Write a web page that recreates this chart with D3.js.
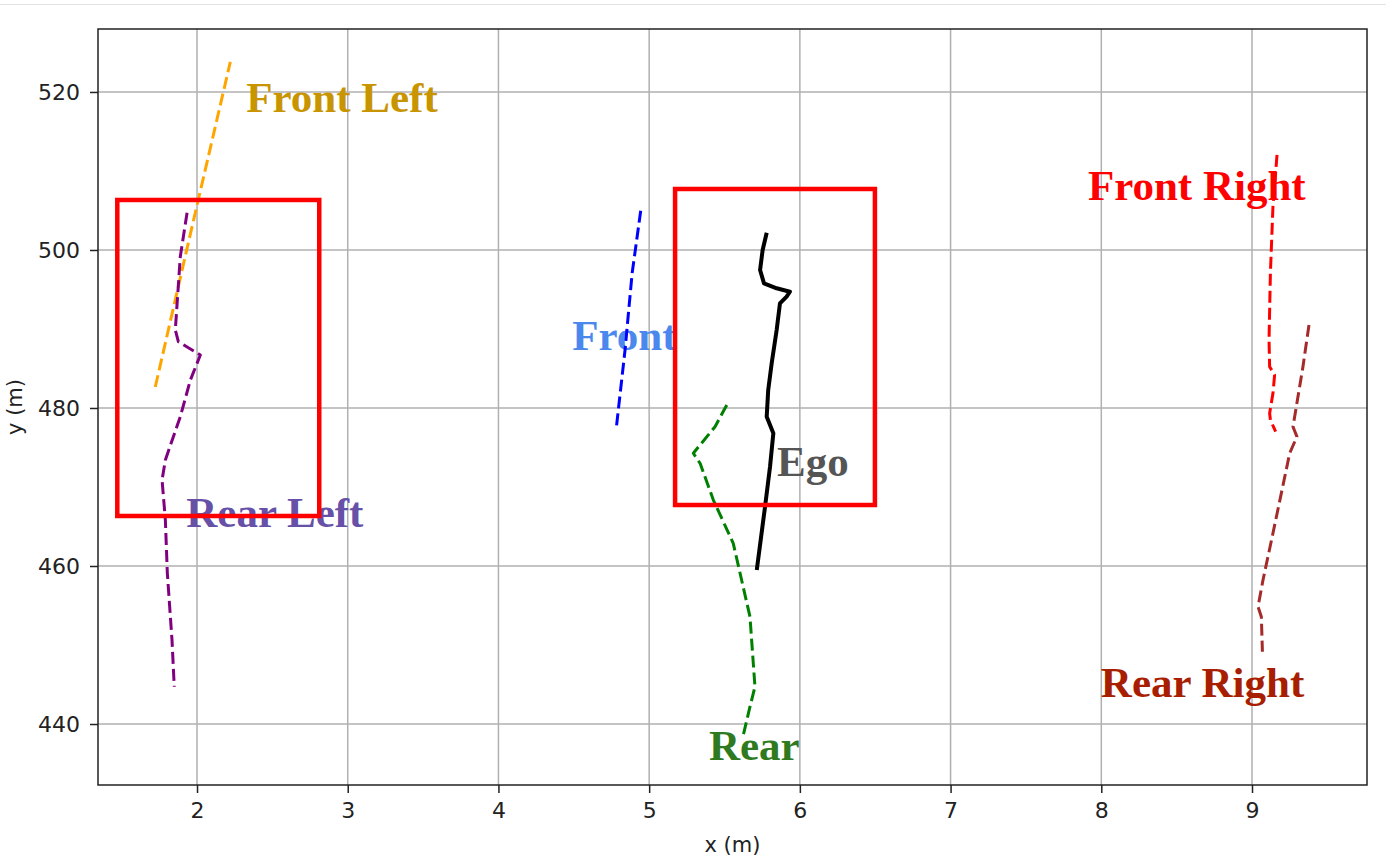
<!DOCTYPE html>
<html>
<head>
<meta charset="utf-8">
<script src="https://cdn.jsdelivr.net/npm/d3@7"></script>
<style>
  html, body { margin: 0; padding: 0; background: #fff; }
  svg { display: block; }
</style>
</head>
<body>
<svg id="chart" width="1386" height="860"></svg>
<script>
// ---- Data ----
const xTicks = [2, 3, 4, 5, 6, 7, 8, 9];
const yTicks = [440, 460, 480, 500, 520];

const frontLeft = [[1.723, 482.66], [1.97, 503.2], [2.221, 523.8]];
const rearLeft = [[1.934, 504.72], [1.889, 499.15], [1.856, 489.87], [1.876, 488.4], [2.022, 486.71],
  [1.956, 483.54], [1.889, 478.9], [1.79, 473.42], [1.768, 470.89], [1.79, 465.82],
  [1.803, 459.11], [1.834, 450.63], [1.849, 444.72]];
const front = [[4.944, 504.97], [4.887, 497.05], [4.84, 487.34], [4.781, 477.3]];
const ego = [[5.78, 502.19], [5.753, 500], [5.736, 497.47], [5.762, 495.78], [5.846, 495.15],
  [5.934, 494.72], [5.912, 494.09], [5.868, 493.25], [5.846, 489.87], [5.813, 485.66],
  [5.79, 482.28], [5.78, 478.9], [5.824, 476.8], [5.802, 472.57], [5.769, 467.51], [5.714, 459.49]];
const rear = [[5.515, 480.38], [5.437, 477.63], [5.293, 474.27], [5.338, 473], [5.426, 468.35],
  [5.558, 462.87], [5.669, 453.58], [5.702, 444.72], [5.669, 442.19], [5.62, 438.23]];
const frontRight = [[9.166, 512.03], [9.139, 505.48], [9.122, 497.05], [9.113, 488.61], [9.117, 485.23],
  [9.15, 484.18], [9.139, 481.86], [9.117, 479.33], [9.122, 478.48], [9.157, 477]];
const rearRight = [[9.378, 490.51], [9.338, 485.23], [9.272, 477.63], [9.298, 476.37], [9.25, 474.27],
  [9.139, 464.14], [9.073, 458.23], [9.04, 454.85], [9.062, 453.58], [9.069, 449.15]];

// boxes: [x0, y0, x1, y1] in data units
const boxes = [[1.471, 466.33, 2.811, 506.33], [5.172, 467.72, 6.498, 507.72]];

const labels = ["Front Left", "Rear Left", "Front", "Ego", "Front Right", "Rear Right", "Rear"];
const labelPos = [[2.327, 517.47], [1.929, 464.94], [4.489, 487.34], [5.848, 471.39], [7.911, 506.33], [7.997, 443.42], [5.397, 435.44]];

// ---- Layout ----
const svg = d3.select("#chart");
const L = 98, T = 29, R = 1367, B = 785;
const x = d3.scaleLinear().domain([1.343, 9.763]).range([L, R]);
const y = d3.scaleLinear().domain([432.28, 527.97]).range([B, T]);

// screenshot border at top
svg.append("line").attr("x1", 0).attr("x2", 1386).attr("y1", 4.5).attr("y2", 4.5)
  .attr("stroke", "#e3e3e3").attr("stroke-width", 1);

// grid
const grid = svg.append("g");
grid.selectAll(".gx").data(xTicks).join("line")
  .attr("x1", d => x(d)).attr("x2", d => x(d)).attr("y1", T).attr("y2", B)
  .attr("stroke", "#b0b0b0").attr("stroke-width", 1.5);
grid.selectAll(".gy").data(yTicks).join("line")
  .attr("y1", d => y(d)).attr("y2", d => y(d)).attr("x1", L).attr("x2", R)
  .attr("stroke", "#b0b0b0").attr("stroke-width", 1.5);

// axes
const xAxis = d3.axisBottom(x).tickValues(xTicks).tickSize(8).tickPadding(9).tickFormat(d3.format("d"));
const yAxis = d3.axisLeft(y).tickValues(yTicks).tickSize(8).tickPadding(10).tickFormat(d3.format("d"));
const gx = svg.append("g").attr("transform", `translate(0,${B})`).call(xAxis);
const gy = svg.append("g").attr("transform", `translate(${L},0)`).call(yAxis);
[gx, gy].forEach(g => {
  g.select(".domain").remove();
  g.selectAll("line").attr("stroke", "#222").attr("stroke-width", 1.5);
  g.selectAll("text").attr("fill", "#222").style("font-family", "DejaVu Sans").style("font-size", "22px");
});

// frame
svg.append("rect").attr("x", L).attr("y", T).attr("width", R - L).attr("height", B - T)
  .attr("fill", "none").attr("stroke", "#222").attr("stroke-width", 1.5);

// axis labels
svg.append("text").attr("x", (L + R) / 2).attr("y", 852).attr("text-anchor", "middle")
  .style("font-family", "DejaVu Sans").style("font-size", "21px").attr("fill", "#222").text("x (m)");
svg.append("text").attr("transform", `translate(22,${(T + B) / 2}) rotate(-90)`).attr("text-anchor", "middle")
  .style("font-family", "DejaVu Sans").style("font-size", "21px").attr("fill", "#222").text("y (m)");

// labels
const labelColors = ["#c89400", "#6650a8", "#4a88ee", "#555555", "#ff0000", "#a81e00", "#2f7a1e"];
svg.append("g").selectAll("text").data(labels).join("text")
  .attr("x", (d, i) => x(labelPos[i][0])).attr("y", (d, i) => y(labelPos[i][1]))
  .attr("fill", (d, i) => labelColors[i])
  .style("font-family", "'Liberation Serif', 'Times New Roman', serif")
  .style("font-weight", "bold").style("font-size", "43px")
  .text(d => d);

// trajectories
const line = d3.line().x(d => x(d[0])).y(d => y(d[1])).curve(d3.curveLinear);
const series = [
  { data: frontLeft, color: "#ffa500", dash: "12,5", w: 3 },
  { data: rearLeft, color: "#800080", dash: "12,5", w: 3 },
  { data: front, color: "#0000ff", dash: "12,5", w: 3 },
  { data: rear, color: "#008000", dash: "12,5", w: 3 },
  { data: frontRight, color: "#ff0000", dash: "12,5", w: 3 },
  { data: rearRight, color: "#a52a2a", dash: "12,5", w: 3 },
  { data: ego, color: "#000000", dash: null, w: 4 }
];
svg.append("g").selectAll("path").data(series).join("path")
  .attr("d", d => line(d.data))
  .attr("fill", "none")
  .attr("stroke", d => d.color)
  .attr("stroke-width", d => d.w)
  .attr("stroke-dasharray", d => d.dash)
  .attr("stroke-linejoin", "round");

// boxes
svg.append("g").selectAll("rect").data(boxes).join("rect")
  .attr("x", d => x(d[0])).attr("y", d => y(d[3]))
  .attr("width", d => x(d[2]) - x(d[0])).attr("height", d => y(d[1]) - y(d[3]))
  .attr("fill", "none").attr("stroke", "#ff0000").attr("stroke-width", 4.5);
</script>
</body>
</html>
